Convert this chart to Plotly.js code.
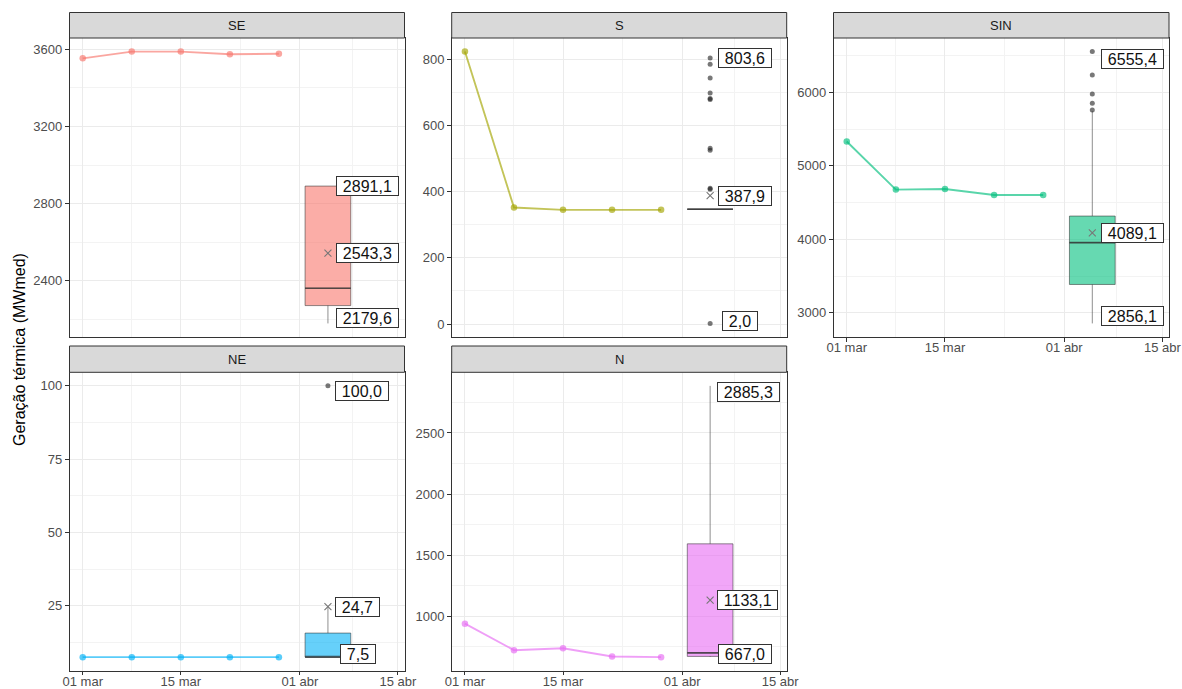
<!DOCTYPE html>
<html><head><meta charset="utf-8">
<script src="https://cdn.plot.ly/plotly-3.0.1.min.js"></script>
<style>html,body{margin:0;padding:0;background:#fff}</style>
</head><body><div id="chart" style="width:1182px;height:689px"></div>
<script>
// ---------------- DATA ----------------
const regions = ['SE', 'S', 'SIN', 'NE', 'N'];
const weeks = ['2025-03-01', '2025-03-08', '2025-03-15', '2025-03-22', '2025-03-29'];
const weeklySE = [3553, 3588, 3588, 3574, 3577];
const weeklyS = [823, 352, 345, 345, 345];
const weeklySIN = [5332, 4677, 4686, 4604, 4604];
const weeklyNE = [7.5, 7.5, 7.5, 7.5, 7.5];
const weeklyN = [940, 723, 739, 671, 666];

const boxDate = '2025-04-05';
const boxLower = [2179.6, 347, 2856.1, 7.5, 667.0];
const boxQ1 = [2272, 347, 3386, 7.5, 672];
const boxMedian = [2362, 347, 3955, 7.5, 701];
const boxQ3 = [2891.1, 347, 4317, 15.7, 1593];
const boxUpper = [2891.1, 347, 5745, 24.7, 2885.3];
const boxMean = [2543.3, 387.9, 4089.1, 24.7, 1133.1];
const outliersSE = [];
const outliersS = [803.6, 785, 743, 698, 681, 678, 531, 525, 410, 407, 2.0];
const outliersSIN = [6555.4, 6236, 5977, 5854, 5760];
const outliersNE = [100.0];
const outliersN = [];

const xTickVals = ['2025-03-01', '2025-03-15', '2025-04-01', '2025-04-15'];
const xTickText = ['01 mar', '15 mar', '01 abr', '15 abr'];
const xMinorVals = ['2025-03-08', '2025-03-23 12:00', '2025-04-08 12:00'];
const yTitle = 'Geração térmica (MWmed)';

// ---------------- STYLE / LAYOUT ----------------
const weekly = [weeklySE, weeklyS, weeklySIN, weeklyNE, weeklyN];
const outliers = [outliersSE, outliersS, outliersSIN, outliersNE, outliersN];
const hues = [[248,118,109],[163,165,0],[0,191,125],[0,176,246],[231,107,243]];
const rgba = (c, a) => `rgba(${c[0]},${c[1]},${c[2]},${a})`;
const W = 1182, H = 689;
const cols = [[69.5, 404.5], [451.7, 786.7], [833.5, 1169]];
const rows = [[38, 337], [372.3, 670.7]];
const strips = [[12.5, 38], [346, 372.3]];
const pos = [[0,0],[0,1],[0,2],[1,0],[1,1]];
const showX = [false, false, true, true, true];
const yDtick = [400, 200, 1000, 25, 500];
const xRange = ['2025-02-27 02:40', '2025-04-15 22:20'];
const boxWidthDays = 6.52;
const labelShift = [
  [[8,0],[8,0],[8,5]],
  [[8,0],[8,0],[12,2]],
  [[9,-7],[9,0],[9,7]],
  [[7,-5],[7,0],[12,3.5]],
  [[7,-6],[7,0],[8,3.5]]
];
const fmt = v => v.toFixed(1).replace('.', ',');
const font = 'Liberation Sans, Arial, Helvetica, sans-serif';

const traces = [];
const layout = {
  width: W, height: H,
  margin: {l: 0, r: 0, t: 0, b: 0},
  paper_bgcolor: '#fff', plot_bgcolor: '#fff',
  showlegend: false, hovermode: false,
  font: {family: font, color: '#4D4D4D'},
  shapes: [], annotations: []
};

const dayMs = 86400000;
const boxMs = new Date(boxDate + 'T00:00:00Z').getTime();

regions.forEach((reg, i) => {
  const k = i + 1;
  const xa = 'x' + k, ya = 'y' + k;
  const [r, c] = pos[i];
  const x0 = cols[c][0] / W, x1 = cols[c][1] / W;
  const y0 = 1 - rows[r][1] / H, y1 = 1 - rows[r][0] / H;

  const allVals = weekly[i].concat(outliers[i], [boxLower[i], boxUpper[i]]);
  const vmin = Math.min(...allVals), vmax = Math.max(...allVals);
  const pad = (vmax - vmin) * 0.05;

  layout['xaxis' + k] = {
    domain: [x0, x1], anchor: ya, type: 'date', range: xRange,
    tickmode: 'array', tickvals: xTickVals, ticktext: xTickText,
    showticklabels: showX[i], ticks: showX[i] ? 'outside' : '',
    ticklen: 3.7, tickwidth: 1, tickcolor: '#333333', ticklabelstandoff: -5,
    tickfont: {size: 13, color: '#4D4D4D', family: font},
    showgrid: true, gridcolor: '#EBEBEB', gridwidth: 1,
    minor: {tickmode: 'array', tickvals: xMinorVals, showgrid: true, gridcolor: '#F3F3F3', gridwidth: 1, ticks: ''},
    showline: true, mirror: true, linecolor: '#333333', linewidth: 1,
    zeroline: false, fixedrange: true
  };
  layout['yaxis' + k] = {
    domain: [y0, y1], anchor: xa, range: [vmin - pad, vmax + pad],
    tickmode: 'linear', tick0: 0, dtick: yDtick[i],
    ticks: 'outside', ticklen: 3.7, tickwidth: 1, tickcolor: '#333333',
    tickfont: {size: 13, color: '#4D4D4D', family: font},
    showgrid: true, gridcolor: '#EBEBEB', gridwidth: 1,
    minor: {tickmode: 'linear', tick0: 0, dtick: yDtick[i] / 2, showgrid: true, gridcolor: '#F3F3F3', gridwidth: 1, ticks: ''},
    showline: true, mirror: true, linecolor: '#333333', linewidth: 1,
    zeroline: false, fixedrange: true
  };

  // strip
  layout.shapes.push({
    type: 'rect', xref: 'paper', yref: 'paper',
    x0: x0, x1: x1, y0: 1 - strips[r][1] / H, y1: 1 - strips[r][0] / H,
    fillcolor: '#D9D9D9', line: {color: '#333333', width: 1}, layer: 'above'
  });
  layout.annotations.push({
    xref: 'paper', yref: 'paper', x: (x0 + x1) / 2, y: 1 - (strips[r][0] + strips[r][1]) / 2 / H,
    text: reg, showarrow: false, font: {size: 13, color: '#1A1A1A', family: font},
    xanchor: 'center', yanchor: 'middle'
  });

  // weekly line
  traces.push({
    type: 'scatter', mode: 'lines+markers', xaxis: xa, yaxis: ya,
    x: weeks, y: weekly[i],
    line: {color: rgba(hues[i], 0.65), width: 1.9},
    marker: {color: rgba(hues[i], 0.65), size: 6.5}
  });

  // box
  traces.push({
    type: 'box', xaxis: xa, yaxis: ya, x: [boxDate],
    q1: [boxQ1[i]], median: [boxMedian[i]], q3: [boxQ3[i]],
    lowerfence: [boxLower[i]], upperfence: [boxUpper[i]],
    width: boxWidthDays * dayMs, whiskerwidth: 0, boxpoints: false,
    fillcolor: rgba(hues[i], 0.6),
    line: {color: 'rgba(51,51,51,0.55)', width: 1}
  });
  // median line (thicker)
  traces.push({
    type: 'scatter', mode: 'lines', xaxis: xa, yaxis: ya,
    x: [boxMs - boxWidthDays * dayMs / 2, boxMs + boxWidthDays * dayMs / 2],
    y: [boxMedian[i], boxMedian[i]],
    line: {color: 'rgba(51,51,51,0.75)', width: 1.6}
  });
  // outliers
  if (outliers[i].length) {
    traces.push({
      type: 'scatter', mode: 'markers', xaxis: xa, yaxis: ya,
      x: outliers[i].map(() => boxDate), y: outliers[i],
      marker: {color: 'rgba(30,30,30,0.6)', size: 5}
    });
  }
  // mean marker
  traces.push({
    type: 'scatter', mode: 'markers', xaxis: xa, yaxis: ya,
    x: [boxDate], y: [boxMean[i]],
    marker: {symbol: 'x-thin', size: 7, color: '#777', line: {color: '#777', width: 1.1}}
  });

  // labels: max, mean, min
  const labVals = [Math.max(boxUpper[i], ...outliers[i]), boxMean[i], Math.min(boxLower[i], ...outliers[i])];
  labVals.forEach((v, j) => {
    layout.annotations.push({
      xref: xa, yref: ya, x: boxDate, y: v,
      text: '\u2004' + fmt(v) + '\u2004', showarrow: false,
      xanchor: 'left', yanchor: 'middle',
      xshift: labelShift[i][j][0], yshift: labelShift[i][j][1],
      font: {size: 16, color: '#111111', family: font},
      bgcolor: '#FFFFFF', bordercolor: '#333333', borderwidth: 1, borderpad: 0.5
    });
  });
});

// y title
layout.annotations.push({
  xref: 'paper', yref: 'paper', x: 19 / W, y: 1 - 350 / H,
  text: yTitle, textangle: -90, showarrow: false,
  font: {size: 16, color: '#000000', family: font},
  xanchor: 'center', yanchor: 'middle'
});

Plotly.newPlot('chart', traces, layout, {displayModeBar: false, staticPlot: true});
</script>
</body></html>
